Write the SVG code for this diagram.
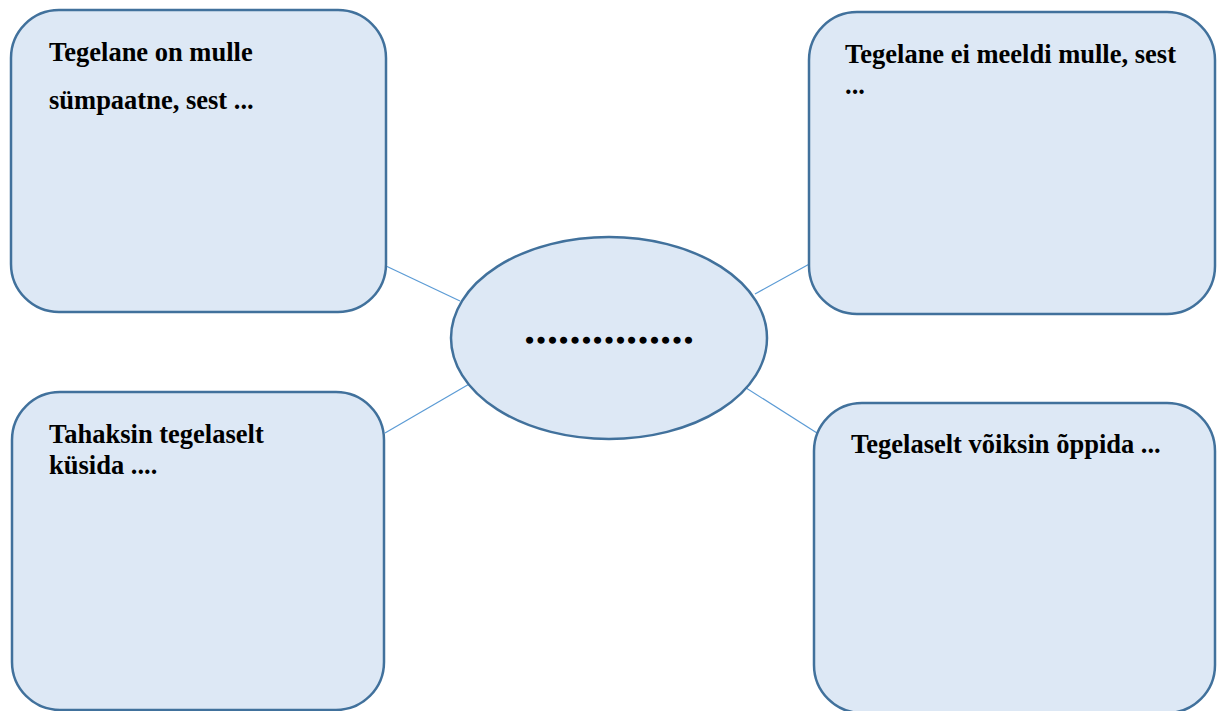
<svg xmlns="http://www.w3.org/2000/svg" width="1217" height="711" viewBox="0 0 1217 711">
  <style>
    .box { fill: #dde8f5; stroke: #41719c; stroke-width: 2.5; }
    .link { stroke: #5b9bd5; stroke-width: 1.2; fill: none; }
    .label { font-family: "Liberation Serif", "Times New Roman", serif; font-weight: bold; font-size: 26.5px; fill: #000; }
    .dots { font-size: 34px; stroke: #000; stroke-width: 1.6; }
  </style>
  <rect width="1217" height="711" fill="#ffffff"/>

  <!-- spokes from the centre ellipse to the four boxes -->
  <g id="connectors">
    <line class="link" x1="386" y1="266" x2="460" y2="301"/>
    <line class="link" x1="755" y1="294" x2="813" y2="262"/>
    <line class="link" x1="385" y1="433" x2="471" y2="383"/>
    <line class="link" x1="743" y1="386" x2="817" y2="433"/>
  </g>

  <g id="box-sympathetic">
    <rect class="box" x="11" y="10" width="375" height="302" rx="48" ry="48"/>
    <text class="label" x="49" y="61">Tegelane on mulle</text>
    <text class="label" x="49" y="109">sümpaatne, sest ...</text>
  </g>

  <g id="box-dislike">
    <rect class="box" x="809" y="12" width="406" height="302" rx="48" ry="48"/>
    <text class="label" x="845" y="63">Tegelane ei meeldi mulle, sest</text>
    <text class="label" x="845" y="94">...</text>
  </g>

  <g id="box-ask">
    <rect class="box" x="12" y="392" width="372" height="318" rx="48" ry="48"/>
    <text class="label" x="49" y="443">Tahaksin tegelaselt</text>
    <text class="label" x="49" y="474">küsida ....</text>
  </g>

  <g id="box-learn">
    <rect class="box" x="814" y="403" width="401" height="310" rx="48" ry="48"/>
    <text class="label" x="851" y="453">Tegelaselt võiksin õppida ...</text>
  </g>

  <g id="centre">
    <ellipse class="box" cx="609" cy="338" rx="158" ry="101"/>
    <text class="label dots" x="609" y="343" text-anchor="middle">……………</text>
  </g>
</svg>
